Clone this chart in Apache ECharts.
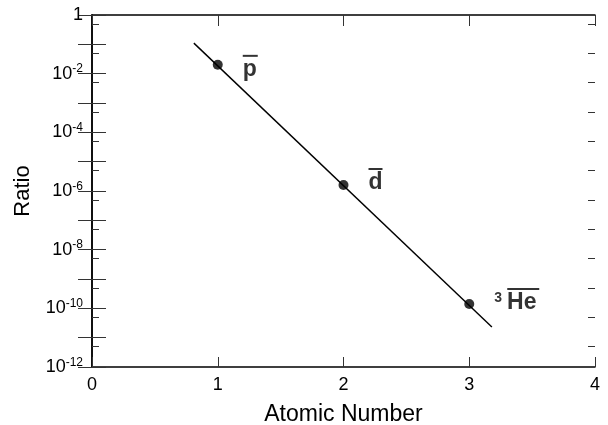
<!DOCTYPE html>
<html>
<head>
<meta charset="utf-8">
<script src="https://cdn.jsdelivr.net/npm/echarts@6/dist/echarts.min.js"></script>
<style>
  html, body { margin: 0; padding: 0; background: #fff; }
  #chart { width: 608px; height: 425px; }
</style>
</head>
<body>
<div id="chart"></div>
<script>
// measured points
const atomicNumber = [1, 2, 3];
const ratio = [2.0e-2, 1.6e-6, 1.4e-10];
const particleNames = ['p', 'd', 'He'];
// fitted line, end points
const fitLineX = [0.81, 3.18];
const fitLineY = [1.1e-1, 2.3e-11];
// axis ticks
const xTicks = [0, 1, 2, 3, 4];
const yMajorTicks = [1e-12, 1e-11, 1e-10, 1e-9, 1e-8, 1e-7, 1e-6, 1e-5, 1e-4, 1e-3, 1e-2, 1e-1, 1];
const yLabelTicks = [1e-12, 1e-10, 1e-8, 1e-6, 1e-4, 1e-2, 1];
const yMinorTicks = [5e-12, 5e-11, 5e-10, 5e-9, 5e-8, 5e-7, 5e-6, 5e-5, 5e-4, 5e-3, 5e-2, 5e-1];

const FONT = 'Liberation Sans, Arial, sans-serif';
const black = '#000';

const chart = echarts.init(document.getElementById('chart'));

const labelRich = {
  t: { fontFamily: FONT, fontSize: 23, fontWeight: 'bold', color: black, lineHeight: 26 },
  sup: { fontFamily: FONT, fontSize: 14, fontWeight: 'bold', color: black, padding: [0, 5, 10, 0] },
  bar1: { width: 15, height: 2, backgroundColor: black },
  bar2: { width: 14, height: 2, backgroundColor: black },
  bar3: { width: 32, height: 2, backgroundColor: black },
  sp: { width: 13, height: 2 }
};

function particleLabel(name) {
  if (name === 'p') return '{bar1|}\n{t|p}';
  if (name === 'd') return '{bar2|}\n{t|d}';
  return '{sp|}{bar3|}\n{sup|3}{t|He}';
}

const labelOffsets = [[0, 4], [0, -3], [0, -2]];

const pointData = atomicNumber.map((x, i) => ({
  value: [x, ratio[i]],
  name: particleNames[i],
  label: { offset: labelOffsets[i] }
}));

function expLabel(value) {
  const e = Math.round(Math.log10(value));
  if (e === 0) return '{b|1}';
  return '{b|10}{s|' + e + '}';
}

function yAxisBase(position) {
  return {
    type: 'log',
    logBase: 10,
    min: yMajorTicks[0],
    max: yMajorTicks[yMajorTicks.length - 1],
    interval: 1,
    position: position,
    splitLine: { show: false },
    axisLine: { show: true, lineStyle: { color: black, width: 1.5 } },
    axisTick: {
      show: true, inside: true, length: 14, customValues: yMajorTicks,
      lineStyle: { color: '#333', width: 1 }
    },
    axisLabel: { show: false }
  };
}

function yMinorAxis(position) {
  return {
    type: 'log',
    logBase: 10,
    min: yMajorTicks[0],
    max: yMajorTicks[yMajorTicks.length - 1],
    position: position,
    splitLine: { show: false },
    axisLine: { show: false },
    axisTick: {
      show: true, inside: true, length: 7, customValues: yMinorTicks,
      lineStyle: { color: '#333', width: 1 }
    },
    axisLabel: { show: false }
  };
}

const yLeft = yAxisBase('left');
yLeft.name = 'Ratio';
yLeft.nameLocation = 'middle';
yLeft.nameGap = 58;
yLeft.nameTextStyle = { fontFamily: FONT, fontSize: 22, color: black };
yLeft.axisLabel = {
  show: true,
  margin: 9,
  customValues: yLabelTicks,
  formatter: expLabel,
  rich: {
    b: { fontFamily: FONT, fontSize: 18, color: black },
    s: { fontFamily: FONT, fontSize: 12, color: black, padding: [0, 0, 9, 0] }
  }
};

const option = {
  backgroundColor: '#fff',
  animation: false,
  grid: { left: 92, right: 13, top: 15, bottom: 58, outerBoundsMode: 'none' },
  xAxis: [
    {
      type: 'value',
      min: xTicks[0],
      max: xTicks[xTicks.length - 1],
      interval: 1,
      position: 'bottom',
      name: 'Atomic Number',
      nameLocation: 'middle',
      nameGap: 36,
      nameTextStyle: { fontFamily: FONT, fontSize: 23, color: black },
      splitLine: { show: false },
      axisLine: { show: true, lineStyle: { color: black, width: 1.5 } },
      axisTick: { show: true, inside: true, length: 10, lineStyle: { color: '#333' } },
      axisLabel: { fontFamily: FONT, fontSize: 18, color: black, margin: 9 }
    },
    {
      type: 'value',
      min: xTicks[0],
      max: xTicks[xTicks.length - 1],
      interval: 1,
      position: 'top',
      splitLine: { show: false },
      axisLine: { show: true, lineStyle: { color: black, width: 1.5 } },
      axisTick: { show: true, inside: true, length: 11, lineStyle: { color: '#333' } },
      axisLabel: { show: false }
    }
  ],
  yAxis: [
    yLeft,
    yAxisBase('right'),
    yMinorAxis('left'),
    yMinorAxis('right')
  ],
  series: [
    {
      type: 'line',
      xAxisIndex: 0,
      yAxisIndex: 0,
      data: fitLineX.map((x, i) => [x, fitLineY[i]]),
      showSymbol: false,
      symbol: 'none',
      lineStyle: { color: black, width: 1.4 },
      silent: true
    },
    {
      type: 'scatter',
      xAxisIndex: 0,
      yAxisIndex: 0,
      data: pointData,
      symbol: 'circle',
      symbolSize: 10,
      itemStyle: { color: black },
      label: {
        show: true,
        position: 'right',
        distance: 20,
        align: 'left',
        formatter: p => particleLabel(p.name),
        rich: labelRich
      }
    }
  ]
};

chart.setOption(option);
</script>
</body>
</html>
